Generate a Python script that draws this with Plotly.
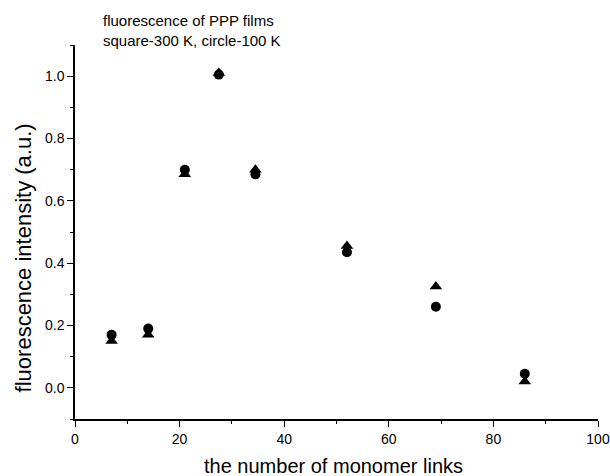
import plotly.graph_objects as go

links = [7, 14, 21, 27.5, 34.5, 52, 69, 86]
circle_100K = [0.17, 0.19, 0.70, 1.005, 0.685, 0.435, 0.26, 0.045]
triangle_300K = [0.15, 0.17, 0.685, 1.01, 0.70, 0.455, 0.325, 0.02]

x_ticks = [0, 20, 40, 60, 80, 100]
y_ticks = [0.0, 0.2, 0.4, 0.6, 0.8, 1.0]
y_tick_labels = ["0.0", "0.2", "0.4", "0.6", "0.8", "1.0"]

fig = go.Figure()
fig.add_trace(go.Scatter(x=links, y=circle_100K, mode="markers",
                         marker=dict(symbol="circle", size=10, color="black"),
                         name="100 K"))
fig.add_trace(go.Scatter(x=links, y=triangle_300K, mode="markers",
                         marker=dict(symbol="triangle-up", size=11, color="black"),
                         name="300 K"))

font = "Liberation Sans, Arial, sans-serif"
fig.update_layout(
    width=610, height=476,
    margin=dict(l=75, r=12, t=45, b=57, autoexpand=False),
    plot_bgcolor="white", paper_bgcolor="white",
    showlegend=False,
    font=dict(family=font, color="black", size=14),
    annotations=[
        dict(text="fluorescence of PPP films<br>square-300 K, circle-100 K",
             xref="paper", yref="paper", x=0.05, y=1.093,
             xanchor="left", yanchor="top", align="left", showarrow=False,
             font=dict(family=font, size=15, color="black")),
        dict(text="the number of monomer links",
             xref="paper", yref="paper", x=0.494, y=-0.125,
             xanchor="center", yanchor="middle", showarrow=False,
             font=dict(family=font, size=20, color="black")),
        dict(text="fluorescence intensity (a.u.)", textangle=-90,
             xref="paper", yref="paper", x=-0.099, y=0.43,
             xanchor="center", yanchor="middle", showarrow=False,
             font=dict(family=font, size=22, color="black")),
    ],
)
fig.update_xaxes(
    range=[0, 100], tickvals=x_ticks, ticktext=[str(v) for v in x_ticks],
    showgrid=False, zeroline=False, showline=True, linecolor="black", linewidth=1.5,
    ticks="outside", ticklen=6, tickwidth=1, tickcolor="black",
    minor=dict(dtick=10, ticks="outside", ticklen=3, tickcolor="black"),
    tickfont=dict(size=14), automargin=False, ticklabeloverflow="allow",
)
fig.update_yaxes(
    range=[-0.1, 1.1], tickvals=y_ticks, ticktext=y_tick_labels,
    showgrid=False, zeroline=False, showline=True, linecolor="black", linewidth=1.5,
    ticks="outside", ticklen=6, tickwidth=1, tickcolor="black",
    minor=dict(dtick=0.1, ticks="outside", ticklen=3, tickcolor="black"),
    tickfont=dict(size=14), automargin=False,
)
fig.write_html(
    "out.html",
    config={"displayModeBar": False},
    post_script="document.body.style.margin='0';document.body.style.overflow='hidden';",
)
